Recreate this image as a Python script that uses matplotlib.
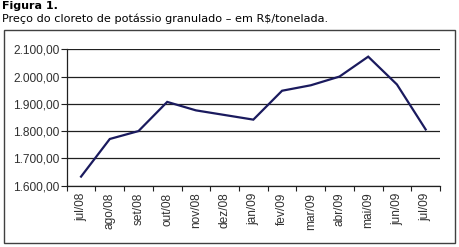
import matplotlib

matplotlib.use("Agg")
import matplotlib.pyplot as plt  # noqa: E402
from matplotlib.patches import Rectangle  # noqa: E402
from matplotlib.ticker import FixedLocator, FuncFormatter  # noqa: E402

# monthly price of granulated potassium chloride, R$/t
months = ["jul/08", "ago/08", "set/08", "out/08", "nov/08", "dez/08", "jan/09",
          "fev/09", "mar/09", "abr/09", "mai/09", "jun/09", "jul/09"]
price = [1633, 1771, 1800, 1907, 1876, 1859, 1842,
         1948, 1968, 2000, 2073, 1971, 1806]
y_ticks = [1600, 1700, 1800, 1900, 2000, 2100]

W, H = 460, 247


def br_fmt(v, _pos=None):
    s = f"{v:,.2f}"
    return s.replace(",", "X").replace(".", ",").replace("X", ".")


fig = plt.figure(figsize=(W / 100, H / 100), dpi=100)
fig.patch.set_facecolor("white")

# header text
fig.text(2 / W, 1 - 1 / H, "Figura 1.", fontsize=8, fontweight="bold",
         family="DejaVu Sans", va="top", ha="left")
fig.text(2 / W, 1 - 13 / H, "Preço do cloreto de potássio granulado – em R$/tonelada.",
         fontsize=8.1, family="DejaVu Sans", va="top", ha="left")

# outer chart frame
fig.patches.append(Rectangle((4 / W, 1 - 243 / H), 451 / W, 213 / H,
                             transform=fig.transFigure, fill=False,
                             edgecolor="#404040", lw=1.0))

ax = fig.add_axes([66.7 / W, 1 - 185.6 / H, (440 - 66.7) / W, (185.6 - 49.3) / H])
x = list(range(len(months)))
ax.plot(x, price, color="#1a1a5e", lw=1.6, solid_joinstyle="miter", zorder=3)

ax.set_xlim(-0.5, len(months) - 0.5)
ax.set_ylim(y_ticks[0], y_ticks[-1])
ax.set_yticks(y_ticks)
ax.yaxis.set_major_formatter(FuncFormatter(br_fmt))
ax.grid(axis="y", color="#202020", lw=0.9, zorder=1)

# category labels centred, tick marks on category boundaries
ax.set_xticks(x)
ax.set_xticklabels(months, rotation=90, fontsize=8.6, family="Liberation Sans",
                   color="#303030")
ax.xaxis.set_minor_locator(FixedLocator([i - 0.5 for i in range(len(months) + 1)]))
ax.tick_params(axis="x", which="major", length=0, pad=5)
ax.tick_params(axis="x", which="minor", length=3.5, width=0.8, color="#202020")
ax.tick_params(axis="y", length=4, width=0.8, color="#202020", labelsize=8.6, pad=1,
               labelcolor="#303030")
for lab in ax.get_yticklabels():
    lab.set_family("Liberation Sans")

for side in ("top", "right"):
    ax.spines[side].set_visible(False)
for side in ("left", "bottom"):
    ax.spines[side].set_color("#202020")
    ax.spines[side].set_linewidth(0.9)

fig.savefig("out.png", dpi=100)
plt.close(fig)
